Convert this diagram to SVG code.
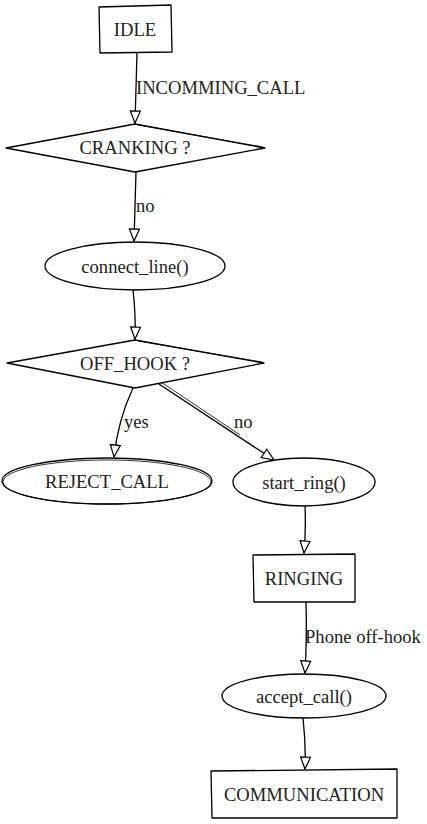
<svg xmlns="http://www.w3.org/2000/svg" width="427" height="824" viewBox="0 0 427 824">
<style>
.s{fill:#fff;stroke:#000;stroke-width:1.3;stroke-linejoin:round}
.s2{fill:none;stroke:#000;stroke-width:0.8}
.t{font-family:"Liberation Serif","Times New Roman",serif;font-size:18.6px;fill:#222;text-anchor:middle;dominant-baseline:central}
.l{font-family:"Liberation Serif","Times New Roman",serif;font-size:18.6px;fill:#222;text-anchor:start}
.e{fill:none;stroke:#000;stroke-width:1.3}
</style>
<defs>
<marker id="ah" markerUnits="userSpaceOnUse" markerWidth="14" markerHeight="12" refX="13" refY="6" orient="auto" viewBox="0 0 14 12">
<path d="M1,1 L13,6 L1,11 Z" fill="#fff" stroke="#000" stroke-width="1.2"/>
</marker>
</defs>
<g id="connectors">
<path class="e" d="M137,53 Q136,90 135,123" marker-end="url(#ah)"/>
<text class="l" x="136" y="94">INCOMMING_CALL</text>
<path class="e" d="M136,172 Q135,210 134,241" marker-end="url(#ah)"/>
<text class="l" x="136" y="212">no</text>
<path class="e" d="M133,290 Q136,316 135,339" marker-end="url(#ah)"/>
<path class="e" d="M133,388 Q118,420 114,457" marker-end="url(#ah)"/>
<text class="l" x="124" y="428">yes</text>
<path class="e" d="M159,384 L274,460" marker-end="url(#ah)"/>
<path class="s2" d="M161,382 L240,435"/>
<text class="l" x="234" y="428">no</text>
<path class="e" d="M305,506 Q306,530 304,553" marker-end="url(#ah)"/>
<path class="e" d="M306,602 Q307,640 305,673" marker-end="url(#ah)"/>
<text class="l" x="305" y="643">Phone off-hook</text>
<path class="e" d="M303,718 Q306,745 305,769" marker-end="url(#ah)"/>
</g>
<g id="idle">
<path class="s" d="M99,7 L171,5 L172,52 L100,53 Z"/>
<text class="t" x="135" y="29">IDLE</text>
</g>
<g id="cranking">
<path class="s" d="M6,148 L135,124 L265,148 L135,172 Z"/>
<path class="s2" d="M138,125 L263,147"/>
<text class="t" x="135" y="147">CRANKING ?</text>
</g>
<g id="connect_line">
<ellipse class="s" cx="135" cy="266" rx="90" ry="24"/>
<text class="t" x="135" y="266">connect_line()</text>
</g>
<g id="off_hook">
<path class="s" d="M7,363 L135,340 L264,363 L135,388 Z"/>
<path class="s2" d="M138,341 L262,362"/>
<text class="t" x="135" y="363">OFF_HOOK ?</text>
</g>
<g id="reject_call">
<ellipse class="s" cx="107" cy="481" rx="105" ry="23"/>
<ellipse class="s2" cx="107" cy="482" rx="104" ry="22"/>
<text class="t" x="107" y="481">REJECT_CALL</text>
</g>
<g id="start_ring">
<ellipse class="s" cx="304" cy="482" rx="71" ry="24"/>
<text class="t" x="304" y="482">start_ring()</text>
</g>
<g id="ringing">
<path class="s" d="M253,555 L355,554 L355,602 L254,602 Z"/>
<text class="t" x="304" y="578">RINGING</text>
</g>
<g id="accept_call">
<ellipse class="s" cx="304" cy="696" rx="82" ry="22"/>
<text class="t" x="304" y="696">accept_call()</text>
</g>
<g id="communication">
<path class="s" d="M211,771 L397,769 L397,818 L212,818 Z"/>
<text class="t" x="304" y="794">COMMUNICATION</text>
</g>
</svg>
